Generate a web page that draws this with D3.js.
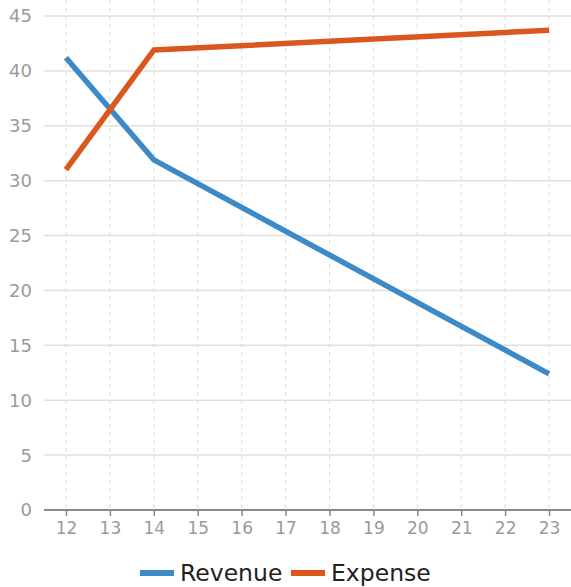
<!DOCTYPE html>
<html>
<head>
<meta charset="utf-8">
<script src="https://cdn.jsdelivr.net/npm/d3@7"></script>
<style>
  body { margin: 0; background: #fff; }
  text { font-family: "DejaVu Sans", sans-serif; }
</style>
</head>
<body>
<script>
/* data */
var revenueX = [12, 14, 23]
var revenueY = [41.2, 31.9, 12.4]
var expenseX = [12, 14, 23]
var expenseY = [31.0, 41.9, 43.7]
var xTicks = [12, 13, 14, 15, 16, 17, 18, 19, 20, 21, 22, 23]
var yTicks = [0, 5, 10, 15, 20, 25, 30, 35, 40, 45]
var seriesNames = ['Revenue', 'Expense']
var seriesColors = ['#3d8ac8', '#da581e']

/* setup */
var width = 571
var height = 587
var margin = { left: 44, right: 0, top: 16, bottom: 77 }

var svg = d3.select('body').append('svg')
    .attr('width', width)
    .attr('height', height)

var x = d3.scaleLinear().domain([11.5, 23.5]).range([margin.left, width - margin.right])
var y = d3.scaleLinear().domain([0, 45]).range([height - margin.bottom, margin.top])

// vertical dashed grid
svg.append('g').selectAll('line').data(xTicks).enter().append('line')
    .attr('x1', function(d) { return x(d) })
    .attr('x2', function(d) { return x(d) })
    .attr('y1', 0)
    .attr('y2', y(0))
    .attr('stroke', '#dcdcdc')
    .attr('stroke-width', 1)
    .attr('stroke-dasharray', '4,4')

// horizontal grid
svg.append('g').selectAll('line').data(yTicks.slice(1)).enter().append('line')
    .attr('x1', margin.left)
    .attr('x2', width)
    .attr('y1', function(d) { return y(d) })
    .attr('y2', function(d) { return y(d) })
    .attr('stroke', '#e0e0e0')
    .attr('stroke-width', 1.5)

// y labels
svg.append('g').selectAll('text').data(yTicks).enter().append('text')
    .attr('x', 32)
    .attr('y', function(d) { return y(d) })
    .attr('dy', '0.36em')
    .attr('text-anchor', 'end')
    .attr('fill', '#9a9a9a')
    .style('font-size', '18px')
    .text(function(d) { return d })

// x axis
var xAxis = svg.append('g')
    .attr('transform', 'translate(0,' + y(0) + ')')
    .call(d3.axisBottom(x).tickValues(xTicks).tickSize(6).tickPadding(6).tickFormat(d3.format('d')))
xAxis.select('.domain').remove()
xAxis.selectAll('.tick line').attr('stroke', '#888').attr('stroke-width', 1.5)
xAxis.selectAll('.tick text')
    .attr('fill', '#9a9a9a')
    .style('font-size', '17px')
    .style('font-family', '"DejaVu Sans", sans-serif')
svg.append('line')
    .attr('x1', margin.left)
    .attr('x2', width)
    .attr('y1', y(0))
    .attr('y2', y(0))
    .attr('stroke', '#8a8a8a')
    .attr('stroke-width', 2)

// lines
var line = d3.line()
    .x(function(d) { return x(d[0]) })
    .y(function(d) { return y(d[1]) })

var series = [d3.zip(revenueX, revenueY), d3.zip(expenseX, expenseY)]

svg.append('g').selectAll('path').data(series).enter().append('path')
    .attr('d', line)
    .attr('fill', 'none')
    .attr('stroke', function(d, i) { return seriesColors[i] })
    .attr('stroke-width', 5.5)
    .attr('stroke-linejoin', 'round')

// legend
var legendX = [140, 291]
var legend = svg.append('g').selectAll('g').data(seriesNames).enter().append('g')
    .attr('transform', function(d, i) { return 'translate(' + legendX[i] + ',573)' })
legend.append('line')
    .attr('x1', 0).attr('x2', 34)
    .attr('stroke', function(d, i) { return seriesColors[i] })
    .attr('stroke-width', 6)
legend.append('text')
    .attr('x', 40)
    .attr('dy', '0.36em')
    .attr('fill', '#222')
    .style('font-size', '23.5px')
    .text(function(d) { return d })
</script>
</body>
</html>
